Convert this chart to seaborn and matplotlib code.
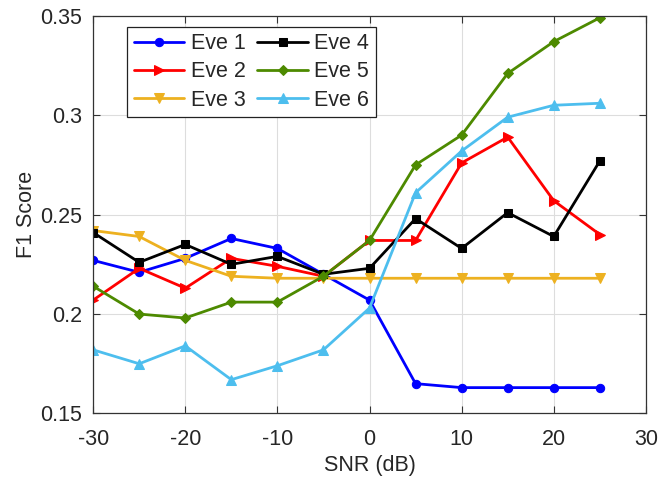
import matplotlib
matplotlib.use("Agg")
import matplotlib.pyplot as plt
import seaborn as sns
import pandas as pd

snr = [-30, -25, -20, -15, -10, -5, 0, 5, 10, 15, 20, 25]

eve1 = [0.227, 0.221, 0.228, 0.238, 0.233, 0.220, 0.207, 0.165, 0.163, 0.163, 0.163, 0.163]
eve2 = [0.207, 0.223, 0.213, 0.228, 0.224, 0.219, 0.237, 0.237, 0.276, 0.289, 0.257, 0.240]
eve3 = [0.242, 0.239, 0.227, 0.219, 0.218, 0.218, 0.218, 0.218, 0.218, 0.218, 0.218, 0.218]
eve4 = [0.241, 0.226, 0.235, 0.225, 0.229, 0.220, 0.223, 0.248, 0.233, 0.251, 0.239, 0.277]
eve5 = [0.214, 0.200, 0.198, 0.206, 0.206, 0.219, 0.237, 0.275, 0.290, 0.321, 0.337, 0.349]
eve6 = [0.182, 0.175, 0.184, 0.167, 0.174, 0.182, 0.203, 0.261, 0.282, 0.299, 0.305, 0.306]

names = ["Eve 1", "Eve 2", "Eve 3", "Eve 4", "Eve 5", "Eve 6"]
series = [eve1, eve2, eve3, eve4, eve5, eve6]
colors = ["#0000FF", "#FF0000", "#EDB120", "#000000", "#4D8A00", "#4DBEEE"]
markers = ["o", ">", "v", "s", "D", "^"]
msizes = [6, 7.5, 7.5, 5.5, 5, 7.5]

df = pd.DataFrame({
    "SNR": snr * len(names),
    "F1": [v for s in series for v in s],
    "Eve": [n for n in names for _ in snr],
})

sns.set_style("whitegrid")
plt.rcParams["font.family"] = ["Liberation Sans", "DejaVu Sans"]
plt.rcParams["axes.unicode_minus"] = False

FS = 15.5

fig = plt.figure(figsize=(6.7, 4.78), dpi=100)
ax = fig.add_axes([0.139, 0.135, 0.825, 0.832])

for name, col, mk, ms in zip(names, colors, markers, msizes):
    sub = df[df["Eve"] == name]
    sns.lineplot(data=sub, x="SNR", y="F1", ax=ax, color=col, marker=mk,
                 markersize=ms, markeredgecolor=col, linewidth=2.0,
                 label=name)

ax.set_xlim(-30, 30)
ax.set_ylim(0.15, 0.35)
ax.set_xticks(range(-30, 31, 10))
ax.set_yticks([0.15, 0.2, 0.25, 0.3, 0.35])
ax.set_yticklabels(["0.15", "0.2", "0.25", "0.3", "0.35"])
ax.set_xlabel("SNR (dB)", fontsize=FS, labelpad=4)
ax.set_ylabel("F1 Score", fontsize=FS, labelpad=2)
ax.tick_params(axis="both", labelsize=FS, direction="in", length=5,
               width=0.8, color="#333333", left=True, bottom=True,
               top=True, right=True)
ax.tick_params(axis="x", pad=11)
ax.tick_params(axis="y", pad=8)
ax.grid(True, color="#DDDDDD", linewidth=0.8)
for sp in ax.spines.values():
    sp.set_visible(True)
    sp.set_color("#333333")
    sp.set_linewidth(0.9)

leg = ax.legend(ncol=2, loc="upper left", bbox_to_anchor=(0.0615, 0.972),
                fontsize=FS, frameon=True, fancybox=False, handlelength=2.35,
                columnspacing=0.55, handletextpad=0.3, labelspacing=0.33,
                borderpad=0.3, borderaxespad=0)
leg.get_frame().set_edgecolor("#222222")
leg.get_frame().set_linewidth(0.9)
leg.get_frame().set_alpha(1)

fig.savefig("out.png", dpi=100)
